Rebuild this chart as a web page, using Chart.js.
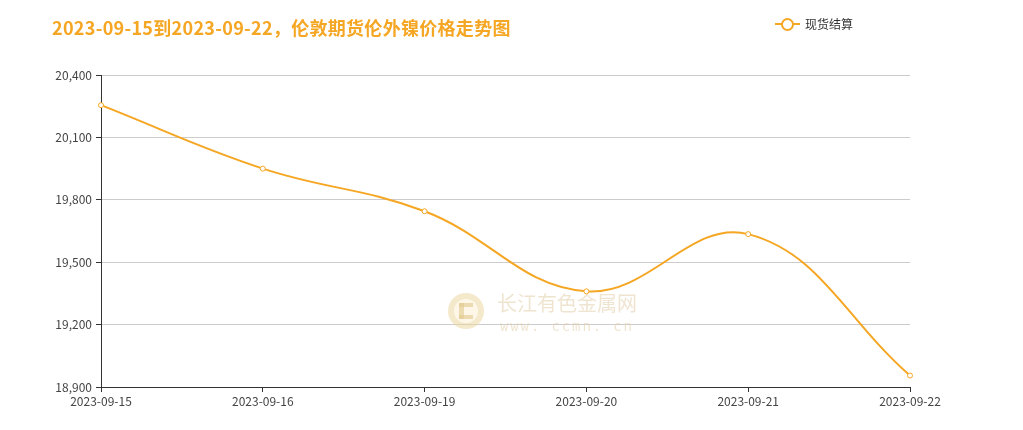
<!DOCTYPE html>
<html>
<head>
<meta charset="utf-8">
<script src="https://cdn.jsdelivr.net/npm/chart.js@4/dist/chart.umd.min.js"></script>
<style>
  body { margin: 0; background: #fff; font-family: "Noto Sans CJK SC", "Noto Sans", sans-serif; }
  #wrap { position: relative; width: 1023px; height: 430px; }
  #title { position: absolute; left: 52px; top: 14px; font-size: 18px; font-weight: bold; color: #f5a623; white-space: nowrap; letter-spacing: 0.3px; }
  #legend { position: absolute; left: 775px; top: 15px; font-size: 12px; color: #333; display: flex; align-items: center; }
  #legend .mk { position: relative; width: 25px; height: 14px; margin-right: 5px; }
  #legend .mk::before { content: ""; position: absolute; left: 0; right: 0; top: 6px; height: 2px; background: #f5a623; }
  #legend .mk::after { content: ""; position: absolute; left: 6px; top: 1px; width: 9px; height: 9px; border: 2px solid #f5a623; border-radius: 50%; background: #fff; }
  canvas { position: absolute; left: 0; top: 0; }
</style>
</head>
<body>
<div id="wrap">
  <canvas id="nickelChart" width="1023" height="430"></canvas>
  <div id="title">2023-09-15到2023-09-22，伦敦期货伦外镍价格走势图</div>
  <div id="legend"><span class="mk"></span>现货结算</div>
</div>
<script>
let dates = ["2023-09-15", "2023-09-16", "2023-09-19", "2023-09-20", "2023-09-21", "2023-09-22"];
let settlePrices = [20255, 19950, 19745, 19360, 19635, 18955];
let yTicks = [18900, 19200, 19500, 19800, 20100, 20400];

let lineColor = "#f5a623";

// faint site watermark behind the line
let watermark = {
    id: "watermark",
    beforeDatasetsDraw(chart) {
        let ctx = chart.ctx;
        ctx.save();
        ctx.beginPath();
        ctx.arc(466, 311, 18, 0, Math.PI * 2);
        ctx.fillStyle = "rgba(235,215,160,0.55)";
        ctx.fill();
        ctx.beginPath();
        ctx.arc(466, 311, 12, 0, Math.PI * 2);
        ctx.fillStyle = "rgba(255,250,235,0.9)";
        ctx.fill();
        ctx.fillStyle = "rgba(225,200,140,0.6)";
        ctx.fillRect(459, 303, 14, 4);
        ctx.fillRect(459, 303, 5, 16);
        ctx.fillRect(459, 315, 14, 4);
        ctx.fillStyle = "rgba(225,205,170,0.55)";
        ctx.font = "20px 'Noto Sans CJK SC'";
        ctx.textBaseline = "middle";
        ctx.fillText("长江有色金属网", 497, 303);
        ctx.font = "14px 'DejaVu Sans Mono'";
        let x = 500;
        for (let ch of "www. ccmn. cn") {
            ctx.fillText(ch, x, 327);
            x += 10.3;
        }
        ctx.restore();
    }
};

new Chart(document.getElementById("nickelChart"), {
    type: "line",
    data: {
        labels: dates,
        datasets: [{
            label: "现货结算",
            data: settlePrices,
            borderColor: lineColor,
            borderWidth: 2,
            tension: 0.4,
            pointRadius: 2.5,
            pointBorderWidth: 1,
            pointBackgroundColor: "#fff",
            pointBorderColor: lineColor,
            fill: false
        }]
    },
    options: {
        responsive: false,
        animation: false,
        layout: { padding: { top: 75, right: 113, left: 0, bottom: 0 } },
        plugins: { legend: { display: false }, tooltip: { enabled: false } },
        scales: {
            x: {
                offset: false,
                afterFit: s => { s.height = 43; },
                grid: { drawOnChartArea: false, drawTicks: true, tickLength: 5, tickColor: "#333" },
                border: { color: "#333", width: 1 },
                ticks: { color: "#444", font: { size: 12, family: "Noto Sans CJK SC" }, padding: 2, maxRotation: 0, autoSkip: false }
            },
            y: {
                min: 18900,
                max: 20400,
                afterFit: s => { s.width = 101; },
                afterBuildTicks: s => { s.ticks = yTicks.map(v => ({ value: v })); },
                grid: { color: "#ccc", tickLength: 5, tickColor: "#333" },
                border: { color: "#333", width: 1 },
                ticks: {
                    color: "#444",
                    padding: 4,
                    font: { size: 12, family: "Noto Sans CJK SC" },
                    callback: v => v.toLocaleString("en-US")
                }
            }
        }
    },
    plugins: [watermark]
});
</script>
</body>
</html>
